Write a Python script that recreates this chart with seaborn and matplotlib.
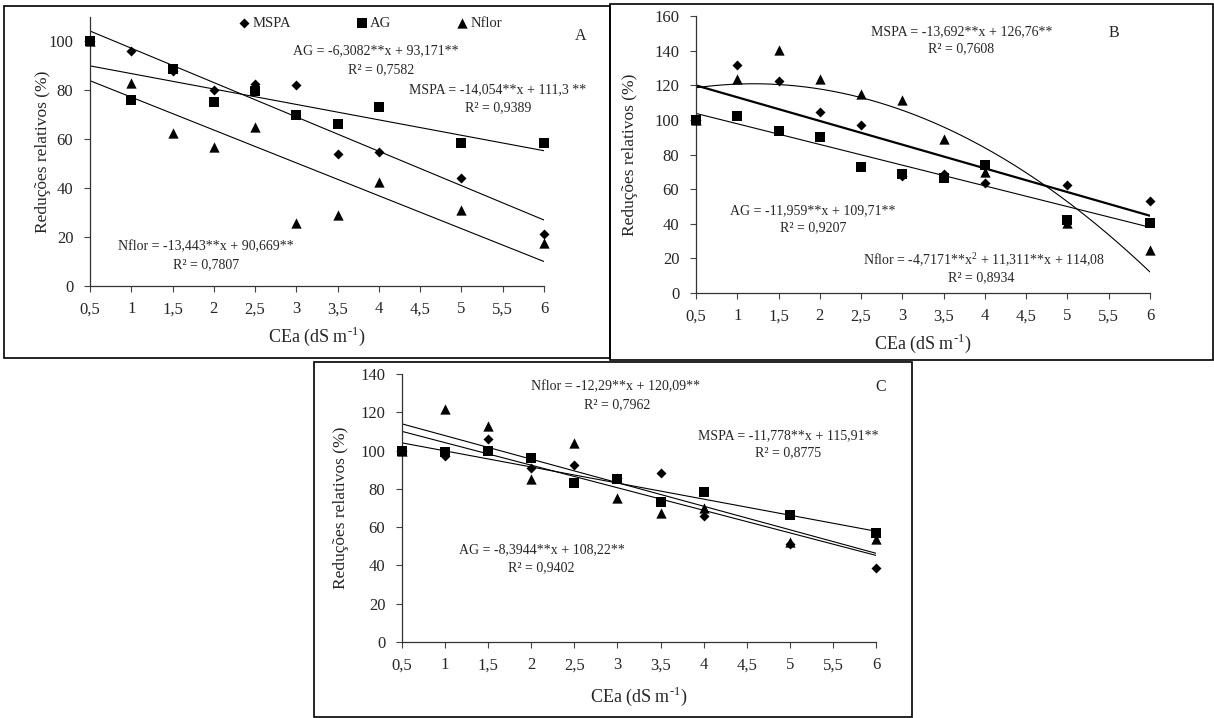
import numpy as np
import pandas as pd
import seaborn as sns
import matplotlib.pyplot as plt
from matplotlib.patches import Rectangle

sns.set_style("ticks")
plt.rcParams['font.family'] = ['Liberation Serif', 'DejaVu Serif']
plt.rcParams['mathtext.fontset'] = 'custom'
plt.rcParams['mathtext.rm'] = 'Liberation Serif'

# # Data
cea = [0.5, 1, 1.5, 2, 2.5, 3, 3.5, 4, 5, 6]
xticks = [0.5, 1, 1.5, 2, 2.5, 3, 3.5, 4, 4.5, 5, 5.5, 6]
xticklabels = ['0,5', '1', '1,5', '2', '2,5', '3', '3,5', '4', '4,5', '5', '5,5', '6']

# Panel A
mspa_a = [100, 96.3, 87.9, 80.3, 82.7, 82.3, 54.1, 54.8, 44.1, 21.1]
ag_a = [100, 76.2, 88.8, 75.4, 79.6, 69.8, 66.4, 73.2, 58.5, 58.5]
nflor_a = [100, 83.0, 62.7, 56.9, 64.9, 25.6, 29.1, 42.7, 30.9, 17.4]
coef_a = {'MSPA': [-14.054, 111.3], 'AG': [-6.3082, 93.171], 'Nflor': [-13.443, 90.669]}

# Panel B
mspa_b = [100, 131.9, 122.3, 104.6, 97.1, 67.7, 68.7, 63.8, 62.3, 52.9]
ag_b = [100, 102.3, 93.7, 90.2, 72.7, 68.7, 66.7, 74.0, 42.3, 40.4]
nflor_b = [100, 123.7, 140.4, 123.7, 114.8, 111.7, 88.8, 69.8, 40.4, 25.0]
coef_b = {'MSPA': [-13.692, 126.76], 'AG': [-11.959, 109.71], 'Nflor': [-4.7171, 11.311, 114.08]}

# Panel C
mspa_c = [100, 97.3, 106.2, 90.7, 92.4, 85.8, 88.4, 65.9, 51.1, 38.7]
ag_c = [100, 99.4, 99.7, 96.2, 83.2, 85.4, 72.9, 78.1, 66.6, 56.7]
nflor_c = [100, 121.5, 112.6, 85.1, 103.9, 75.0, 67.3, 70.1, 52.0, 54.0]
coef_c = {'MSPA': [-11.778, 115.91], 'AG': [-8.3944, 108.22], 'Nflor': [-12.29, 120.09]}

# Equation labels: (text, x, y)
notes_a = [('AG = -6,3082**x + 93,171**', 3.96, 96.3), ('R² = 0,7582', 4.03, 88.6),
           ('MSPA = -14,054**x + 111,3 **', 5.44, 80.4), ('R² = 0,9389', 5.44, 73.0),
           ('Nflor = -13,443**x + 90,669**', 1.9, 15.9), ('R² = 0,7807', 1.9, 8.6)]
notes_b = [('MSPA = -13,692**x + 126,76**', 3.72, 150.8), ('R² = 0,7608', 3.71, 141.0),
           ('AG = -11,959**x + 109,71**', 1.92, 47.4), ('R² = 0,9207', 1.92, 37.5),
           ('Nflor = -4,7171**x$^{\\mathregular{2}}$ + 11,311**x + 114,08', 3.99, 19.0),
           ('R² = 0,8934', 3.96, 8.7)]
notes_c = [('Nflor = -12,29**x + 120,09**', 2.98, 133.2), ('R² = 0,7962', 3.0, 123.8),
           ('MSPA = -11,778**x + 115,91**', 4.98, 108.0), ('R² = 0,8775', 4.98, 98.7),
           ('AG = -8,3944**x + 108,22**', 2.12, 48.0), ('R² = 0,9402', 2.12, 38.7)]

markers = {'MSPA': ('D', 26), 'AG': ('s', 50), 'Nflor': ('^', 55)}

W, H = 1214, 718


def px_axes(x0, x1, y0, y1):
    # pixel box of the plotting area -> figure fraction
    return [x0 / W, 1 - y1 / H, (x1 - x0) / W, (y1 - y0) / H]


def panel(ax, data, coefs, notes, letter, letter_xy, ymax, ytop, lw_thick=None,
          ylab_x=-0.1, xlab_y=-0.145):
    df = pd.DataFrame({'CEa': cea, 'MSPA': data[0], 'AG': data[1], 'Nflor': data[2]})
    for name in ['MSPA', 'AG', 'Nflor']:
        m, s = markers[name]
        sns.scatterplot(data=df, x='CEa', y=name, ax=ax, marker=m, s=s, color='black',
                        edgecolor='black', linewidth=0, label=name, zorder=3, clip_on=False)
    xs = np.linspace(0.5, 6, 200)
    for name in ['MSPA', 'AG', 'Nflor']:
        lw = 0.8
        if lw_thick and name == lw_thick:
            lw = 1.6
        sns.lineplot(x=xs, y=np.polyval(coefs[name], xs), ax=ax, color='black',
                     linewidth=lw, label='_nolegend_', zorder=2)
    for t, x, y in notes:
        ax.text(x, y, t, ha='center', va='center', fontsize=10, clip_on=False)
    ax.text(letter_xy[0], letter_xy[1], letter, ha='center', va='center', fontsize=11.5)
    ax.set_xlim(0.5, 6)
    ax.set_ylim(0, ytop)
    ax.set_xticks(xticks)
    ax.set_xticklabels(xticklabels)
    ax.set_yticks(np.arange(0, ymax + 1, 20))
    ax.tick_params(labelsize=12, length=4, width=0.8, color='#444444')
    ax.tick_params(axis='y', pad=8)
    ax.tick_params(axis='x', pad=7)
    for sp in ['top', 'right']:
        ax.spines[sp].set_visible(False)
    for sp in ['left', 'bottom']:
        ax.spines[sp].set_color('#333333')
        ax.spines[sp].set_linewidth(0.9)
    ax.set_ylabel('Reduções relativos (%)', fontsize=12.5)
    ax.set_xlabel('CEa (dS m$^{\\mathregular{\u2010 1}}$)', fontsize=13)
    ax.yaxis.set_label_coords(ylab_x, 0.5)
    ax.xaxis.set_label_coords(0.5, xlab_y)
    ax.set_facecolor('none')


fig = plt.figure(figsize=(W / 100, H / 100), dpi=100)

axA = fig.add_axes(px_axes(90, 544, 17, 286))
panel(axA, [mspa_a, ag_a, nflor_a], coef_a, notes_a, 'A', (6.44, 102.4), 100, 110,
      ylab_x=-0.085, xlab_y=-0.145)
axA.legend(loc='center', bbox_to_anchor=(0.617, 0.978), ncol=3, frameon=False,
           fontsize=10.5, handlelength=0.8, handletextpad=0.2, columnspacing=4.4,
           borderaxespad=0)

axB = fig.add_axes(px_axes(696, 1150, 16, 293))
panel(axB, [mspa_b, ag_b, nflor_b], coef_b, notes_b, 'B', (5.56, 150), 160, 160,
      lw_thick='MSPA', ylab_x=-0.128, xlab_y=-0.141)
axB.get_legend().remove()

axC = fig.add_axes(px_axes(402, 876, 374, 642))
panel(axC, [mspa_c, ag_c, nflor_c], coef_c, notes_c, 'C', (6.05, 133), 140, 140,
      ylab_x=-0.112, xlab_y=-0.16)
axC.get_legend().remove()

# Panel frames
for x0, y0, x1, y1 in [(4, 6, 610, 358), (610, 4, 1213, 360), (314, 362, 912, 717)]:
    fig.add_artist(Rectangle((x0 / W, 1 - y1 / H), (x1 - x0) / W, (y1 - y0) / H,
                             transform=fig.transFigure, fill=False, lw=1.2,
                             edgecolor='black'))

fig.savefig('out.png', dpi=100)
